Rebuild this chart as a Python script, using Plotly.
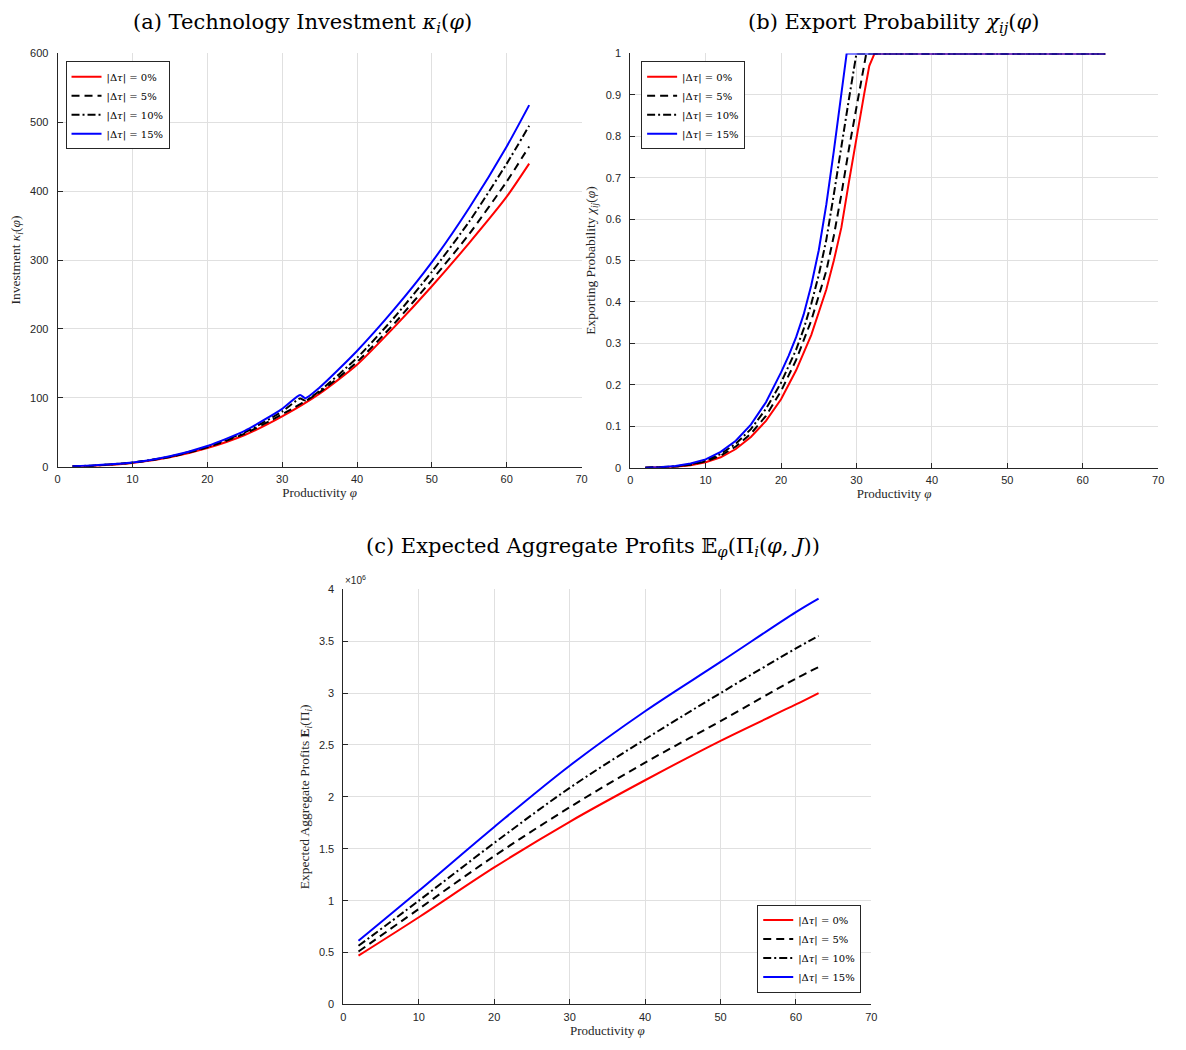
import plotly.graph_objects as go

W, H = 1186, 1050

# ---------------- data ----------------
labels = ["|Δ<i>τ</i>| = 0%", "|Δ<i>τ</i>| = 5%", "|Δ<i>τ</i>| = 10%", "|Δ<i>τ</i>| = 15%"]

# (a) Technology investment
a_x_0 = [2, 5, 10, 15, 20, 25, 30, 35, 40, 45, 50, 55, 60, 63]
a_y_0 = [0.4, 1.5, 5.5, 13.5, 27, 46, 73, 106, 148, 203, 262, 325, 392, 440]
a_x_5 = [2, 5, 10, 15, 20, 25, 30, 35, 40, 45, 50, 55, 60, 63]
a_y_5 = [0.4, 1.6, 5.8, 14, 28, 48, 76, 108, 152, 208, 271, 338, 414, 465]
a_x_10 = [2, 5, 10, 15, 20, 25, 30, 32.4, 33.1, 35, 40, 45, 50, 55, 60, 63]
a_y_10 = [0.5, 1.8, 6, 14.5, 29, 50, 80, 99, 96, 110, 158, 217, 283, 356, 440, 495]
a_x_15 = [2, 5, 10, 15, 20, 25, 30, 32.4, 33.1, 35, 40, 45, 50, 55, 60, 63]
a_y_15 = [0.5, 2, 6, 15, 30, 52, 84, 104, 99.5, 115, 168, 229, 297, 376, 465, 525]

# (b) Export probability
b_x_0 = [2, 4, 6, 8, 10, 12, 14, 16, 18, 20, 22, 24, 26, 27, 28, 29, 30, 31, 31.7, 32.4, 63]
b_y_0 = [0, 0.0005, 0.002, 0.006, 0.013, 0.025, 0.045, 0.074, 0.113, 0.165, 0.235, 0.32, 0.43, 0.5, 0.58, 0.69, 0.8, 0.9, 0.97, 1.0, 1.0]
b_x_5 = [2, 4, 6, 8, 10, 12, 14, 16, 18, 20, 22, 24, 26, 27, 28, 29, 30, 31, 31.3, 63]
b_y_5 = [0, 0.0008, 0.0025, 0.007, 0.015, 0.029, 0.051, 0.082, 0.125, 0.185, 0.26, 0.355, 0.475, 0.56, 0.66, 0.77, 0.87, 0.97, 1.0, 1.0]
b_x_10 = [2, 4, 6, 8, 10, 12, 14, 16, 18, 20, 21, 22, 23, 24, 25, 26, 27, 28, 29, 30, 63]
b_y_10 = [0, 0.001, 0.003, 0.008, 0.017, 0.033, 0.058, 0.093, 0.142, 0.205, 0.243, 0.285, 0.335, 0.395, 0.465, 0.55, 0.66, 0.78, 0.89, 1.0, 1.0]
b_x_15 = [2, 4, 6, 8, 10, 12, 14, 16, 18, 20, 21, 22, 23, 24, 25, 26, 27, 28, 28.7, 63]
b_y_15 = [0, 0.001, 0.004, 0.01, 0.02, 0.038, 0.065, 0.104, 0.158, 0.23, 0.27, 0.315, 0.37, 0.44, 0.525, 0.635, 0.765, 0.9, 1.0, 1.0]

# (c) Expected aggregate profits (x 10^6)
c_x = [2, 10, 20, 30, 40, 50, 60, 63]
c_y_0 = [0.47, 0.84, 1.32, 1.76, 2.16, 2.54, 2.89, 3.0]
c_y_5 = [0.51, 0.92, 1.43, 1.90, 2.33, 2.73, 3.14, 3.25]
c_y_10 = [0.565, 1.0, 1.556, 2.086, 2.555, 3.0, 3.43, 3.55]
c_y_15 = [0.613, 1.095, 1.71, 2.30, 2.825, 3.30, 3.78, 3.91]

a_yticks = [0, 100, 200, 300, 400, 500, 600]
b_yticks = [0, 0.1, 0.2, 0.3, 0.4, 0.5, 0.6, 0.7, 0.8, 0.9, 1]
b_yticktext = ["0", "0.1", "0.2", "0.3", "0.4", "0.5", "0.6", "0.7", "0.8", "0.9", "1"]
c_yticks = [0, 0.5, 1, 1.5, 2, 2.5, 3, 3.5, 4]
c_yticktext = ["0", "0.5", "1", "1.5", "2", "2.5", "3", "3.5", "4"]
x_ticks = [0, 10, 20, 30, 40, 50, 60, 70]

# ---------------- styles ----------------
colors = ["#ff0000", "#000000", "#000000", "#0000ff"]
dashes = ["solid", "8px,5px", "8px,3px,2px,3px", "solid"]
LW = 2

SERIF = "Liberation Serif"
TSERIF = "DejaVu Serif"
SANS = "Liberation Sans"
AX = "#262626"
GRID = "#e0e0e0"

def px_x(p):
    return p / W

def px_y(p):
    return 1 - p / H

fig = go.Figure()

panels = [
    ("x", "y", "legend", [(a_x_0, a_y_0), (a_x_5, a_y_5), (a_x_10, a_y_10), (a_x_15, a_y_15)], "spline", 0.6),
    ("x2", "y2", "legend2", [(b_x_0, b_y_0), (b_x_5, b_y_5), (b_x_10, b_y_10), (b_x_15, b_y_15)], "linear", 0),
    ("x3", "y3", "legend3", [(c_x, c_y_0), (c_x, c_y_5), (c_x, c_y_10), (c_x, c_y_15)], "spline", 1.0),
]

for xa, ya, lg, series, shape, sm in panels:
    for i, (xs, ys) in enumerate(series):
        line = dict(color=colors[i], width=LW, dash=dashes[i], shape=shape)
        if shape == "spline":
            line["smoothing"] = sm
        fig.add_trace(go.Scatter(
            x=xs, y=ys, mode="lines", name=labels[i], line=line,
            xaxis=xa, yaxis=ya, legend=lg, showlegend=True, cliponaxis=False,
        ))

def xaxis(domain, anchor):
    return dict(domain=domain, anchor=anchor, range=[0, 70], tickvals=x_ticks,
                showgrid=True, gridcolor=GRID, gridwidth=1, zeroline=False,
                showline=True, linecolor=AX, linewidth=1, ticks="inside", ticklen=5,
                tickcolor=AX, tickfont=dict(family=SANS, size=11, color=AX),
                ticklabelstandoff=2,
                title=dict(text="Productivity <i>φ</i>", font=dict(family=SERIF, size=13, color=AX), standoff=4))

def yaxis(domain, anchor, rng, tv, tt, title):
    return dict(domain=domain, anchor=anchor, range=rng, tickvals=tv, ticktext=tt,
                showgrid=True, gridcolor=GRID, gridwidth=1, zeroline=False,
                showline=True, linecolor=AX, linewidth=1, ticks="inside", ticklen=5,
                tickcolor=AX, tickfont=dict(family=SANS, size=11, color=AX),
                ticklabelstandoff=6,
                title=dict(text=title, font=dict(family=SERIF, size=13.5, color=AX), standoff=6))

legend_common = dict(bgcolor="white", bordercolor=AX, borderwidth=1,
                     font=dict(family=TSERIF, size=10, color="#000"),
                     xanchor="left", tracegroupgap=0, itemwidth=30)

fig.update_layout(
    width=W, height=H, margin=dict(l=0, r=0, t=0, b=0),
    paper_bgcolor="white", plot_bgcolor="white",
    xaxis=xaxis([px_x(55), px_x(583)], "y"),
    yaxis=yaxis([px_y(466), px_y(48)], "x", [0, 600], a_yticks, [str(v) for v in a_yticks],
                "Investment <i>κ<sub>i</sub></i>(<i>φ</i>)"),
    xaxis2=xaxis([px_x(632), px_x(1164)], "y2"),
    yaxis2=yaxis([px_y(467), px_y(48)], "x2", [0, 1], b_yticks, b_yticktext,
                 "Exporting Probability <i>χ<sub>ij</sub></i>(<i>φ</i>)"),
    xaxis3=xaxis([px_x(343), px_x(875)], "y3"),
    yaxis3=yaxis([px_y(1010), px_y(590)], "x3", [0, 4], c_yticks, c_yticktext,
                 "Expected Aggregate Profits <b>E</b><sub><i>i</i></sub>(Π<sub><i>i</i></sub>)"),
    legend=dict(x=px_x(63), y=px_y(56), yanchor="top", **legend_common),
    legend2=dict(x=px_x(643), y=px_y(56), yanchor="top", **legend_common),
    legend3=dict(x=px_x(760), y=px_y(998), yanchor="bottom", **legend_common),
    showlegend=True,
)

titles = [
    ("(a) Technology Investment <i>κ<sub>i</sub></i>(<i>φ</i>)", 302, 17),
    ("(b) Export Probability <i>χ<sub>ij</sub></i>(<i>φ</i>)", 897, 17),
    ("(c) Expected Aggregate Profits 𝔼<sub><i>φ</i></sub>(Π<sub><i>i</i></sub>(<i>φ</i>, <i>J</i>))", 595, 547),
]
for txt, cx, cy in titles:
    fig.add_annotation(text=txt, x=px_x(cx), y=px_y(cy), xref="paper", yref="paper",
                       xanchor="center", yanchor="middle", showarrow=False,
                       font=dict(family=TSERIF, size=21, color="#000"))

fig.add_annotation(text="×10<sup>6</sup>", x=px_x(343), y=px_y(589), xref="paper", yref="paper",
                   xanchor="left", yanchor="bottom", showarrow=False,
                   font=dict(family=SANS, size=10, color=AX))

fig.write_html("out.html")
